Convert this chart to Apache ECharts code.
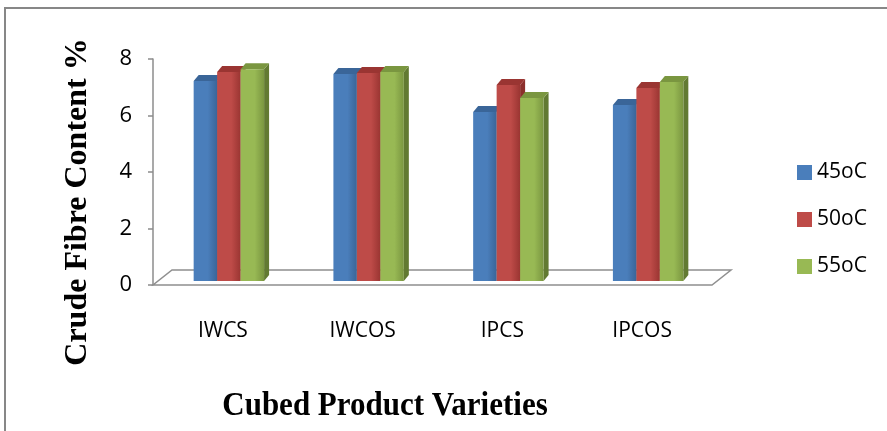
<!DOCTYPE html>
<html>
<head>
<meta charset="utf-8">
<script src="https://cdn.jsdelivr.net/npm/echarts@6/dist/echarts.min.js"></script>
<style>
  html, body { margin: 0; padding: 0; background: #fff; }
  #chart { width: 887px; height: 431px; }
</style>
</head>
<body>
<div id="chart"></div>
<script>
// Crude fibre content (%) of cubed products dried at three temperatures
const categories = ['IWCS', 'IWCOS', 'IPCS', 'IPCOS'];
const seriesNames = ['45oC', '50oC', '55oC'];
const fibre45 = [7.08, 7.33, 5.98, 6.23];
const fibre50 = [7.40, 7.36, 6.94, 6.83];
const fibre55 = [7.50, 7.40, 6.48, 7.04];
const yTicks = { min: 0, max: 8, interval: 2 };

// face colours for each series: front, top, side
const palette = [
  { front: '#4a7ebb', top: '#3a6598', side: '#345c8c' },
  { front: '#be4b48', top: '#9a3532', side: '#8c2f2c' },
  { front: '#98b954', top: '#7a9640', side: '#627a32' }
];

const DEPTH_X = 5, DEPTH_Y = 6;   // bar depth projection
const SHIFT_X = 6, SHIFT_Y = -4;  // bars stand a little behind the floor's front edge
const FLOOR_DX = 19, FLOOR_DY = 15;

function barRenderer(sIdx) {
  return function (params, api) {
    const ci = api.value(0);
    const v = api.value(1);
    const base = api.coord([ci, 0]);
    const top = api.coord([ci, v]);
    const band = api.size([1, 0])[0];
    const bw = band * 0.168;
    const x0 = base[0] - 1.5 * bw + sIdx * bw + SHIFT_X;
    const yb = base[1] + SHIFT_Y;
    const yt = top[1] + SHIFT_Y;
    const c = palette[sIdx];
    return {
      type: 'group',
      children: [
        {
          type: 'polygon',
          shape: { points: [[x0 + bw, yt], [x0 + bw + DEPTH_X, yt - DEPTH_Y], [x0 + bw + DEPTH_X, yb - DEPTH_Y], [x0 + bw, yb]] },
          style: { fill: c.side }
        },
        {
          type: 'polygon',
          shape: { points: [[x0, yt], [x0 + bw, yt], [x0 + bw + DEPTH_X, yt - DEPTH_Y], [x0 + DEPTH_X, yt - DEPTH_Y]] },
          style: { fill: c.top }
        },
        {
          type: 'rect',
          shape: { x: x0, y: yt, width: bw, height: yb - yt },
          style: {
            fill: {
              type: 'linear', x: 0, y: 0, x2: 1, y2: 0,
              colorStops: [
                { offset: 0, color: c.front },
                { offset: 0.6, color: c.front },
                { offset: 1, color: c.top }
              ]
            }
          }
        }
      ]
    };
  };
}

function floorRenderer(params, api) {
  const cs = params.coordSys;
  const y0 = api.coord([0, 0])[1];
  const xl = cs.x, xr = cs.x + cs.width;
  return {
    type: 'polygon',
    shape: { points: [[xl, y0], [xr, y0], [xr + FLOOR_DX, y0 - FLOOR_DY], [xl + FLOOR_DX, y0 - FLOOR_DY]] },
    style: { fill: '#ffffff', stroke: '#8f8f8f', lineWidth: 1.5 }
  };
}

const values = [fibre45, fibre50, fibre55];

const chart = echarts.init(document.getElementById('chart'), null, { renderer: 'canvas' });

chart.setOption({
  animation: false,
  backgroundColor: '#ffffff',
  grid: { left: 153, top: 59, right: 175, bottom: 146, containLabel: false },
  xAxis: {
    type: 'category',
    data: categories,
    axisLine: { show: false },
    axisTick: { show: false },
    axisLabel: {
      margin: 36,
      fontFamily: 'Open Sans',
      fontSize: 21,
      color: '#000'
    }
  },
  yAxis: {
    type: 'value',
    min: yTicks.min,
    max: yTicks.max,
    interval: yTicks.interval,
    axisLine: { show: true, lineStyle: { color: '#8c8c8c', width: 1.5 } },
    axisTick: { show: true, length: 5, lineStyle: { color: '#8c8c8c', width: 1.5 } },
    splitLine: { show: false },
    axisLabel: {
      margin: 21,
      fontFamily: 'Open Sans',
      fontSize: 22,
      padding: [3, 0, 0, 0],
      color: '#000'
    }
  },
  legend: {
    orient: 'vertical',
    left: 797,
    top: 162,
    padding: 0,
    icon: 'rect',
    itemWidth: 15,
    itemHeight: 15,
    itemGap: 26,
    data: seriesNames,
    textStyle: { fontFamily: 'Open Sans', fontSize: 21, lineHeight: 21, color: '#000' }
  },
  graphic: [
    {
      type: 'rect',
      shape: { x: 5, y: 8, width: 1000, height: 1000 },
      style: { fill: 'none', stroke: '#878787', lineWidth: 2 },
      z: 0
    },
    {
      type: 'text',
      x: 78, y: 202,
      rotation: Math.PI / 2,
      style: {
        text: 'Crude Fibre Content %',
        fontFamily: 'Liberation Serif',
        fontWeight: 'bold',
        fontSize: 32,
        fill: '#000',
        align: 'center',
        verticalAlign: 'middle'
      }
    },
    {
      type: 'text',
      x: 385, y: 406,
      scaleY: 1.12,
      style: {
        text: 'Cubed Product Varieties',
        fontFamily: 'Liberation Serif',
        fontWeight: 'bold',
        fontSize: 31,
        fill: '#000',
        align: 'center',
        verticalAlign: 'middle'
      }
    }
  ],
  series: [
    {
      type: 'custom',
      name: 'floor',
      renderItem: floorRenderer,
      data: [[0, 0]],
      z: 1,
      silent: true
    }
  ].concat(seriesNames.map(function (name, i) {
    return {
      type: 'custom',
      name: name,
      renderItem: barRenderer(i),
      itemStyle: { color: palette[i].front },
      encode: { x: 0, y: 1 },
      data: categories.map(function (c, k) { return [k, values[i][k]]; }),
      z: 2 + i
    };
  }))
});
</script>
</body>
</html>
